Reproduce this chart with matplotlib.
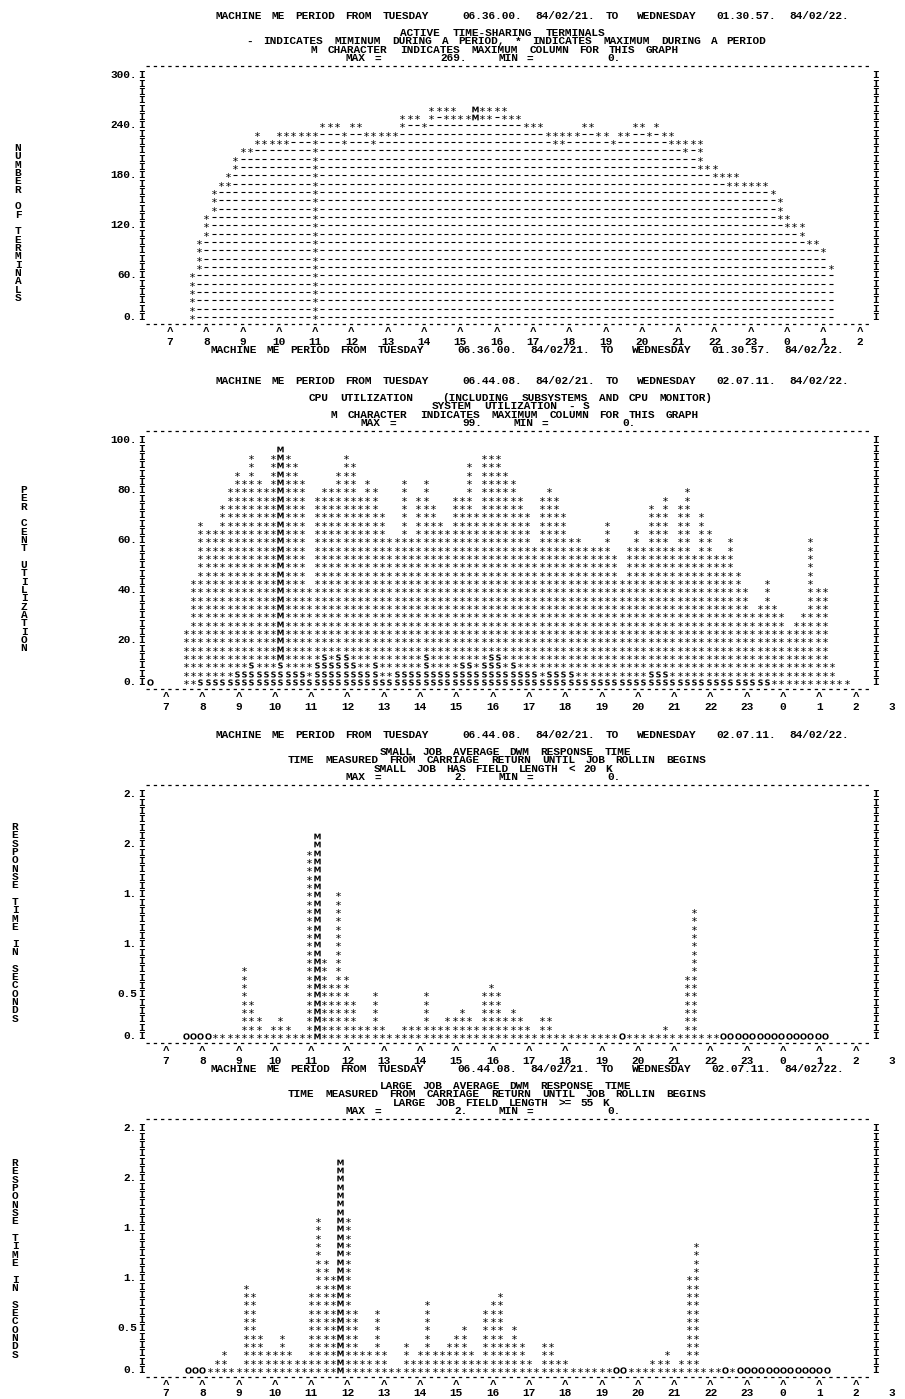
import re
import matplotlib
matplotlib.use('Agg')
import matplotlib.pyplot as plt

nan = float('nan')

# ---------------- data ----------------
hours = list(range(7, 28))                      # 7 .. 3 next morning
hour_names = [str(h % 24) for h in hours]

hdr_terminals = ("MACHINE ME PERIOD FROM TUESDAY    06.36.00. 84/02/21. TO  "
                 "WEDNESDAY  01.30.57. 84/02/22.")
hdr_other = ("MACHINE ME PERIOD FROM TUESDAY    06.44.08. 84/02/21. TO  "
             "WEDNESDAY  02.07.11. 84/02/22.")

# active time-sharing terminals, one column per 12 minutes (max / min of period)
term_t0 = 7.6
term_max = [52, 93, 124, 155, 166, 176, 197, 207, 207, 228,
            217, 217, 228, 228, 228, 228, 228, 228, 238, 238,
            238, 228, 238, 238, 228, 228, 228, 228, 228, 248,
            248, 248, 238, 259, 259, 259, 259, 248, 248, 262,
            259, 259, 259, 259, 248, 248, 238, 238, 238, 228,
            228, 228, 228, 228, 238, 238, 228, 228, 217, 228,
            228, 238, 238, 228, 238, 228, 228, 217, 217, 217,
            217, 186, 186, 176, 176, 176, 166, 166, 166, 166,
            155, 145, 124, 114, 114, 93, 93, 83, 62]
term_min = [0, 62, 103, 134, 166, 166, 186, 207, 207, 217,
            217, 217, 217, 217, 228, 228, 228, 0, 238, 238,
            238, 217, 238, 238, 228, 217, 228, 228, 228, 238,
            248, 248, 238, 248, 259, 248, 248, 248, 248, 248,
            248, 248, 259, 248, 248, 248, 238, 238, 238, 228,
            217, 217, 228, 228, 238, 238, 228, 228, 217, 228,
            228, 238, 238, 228, 238, 228, 217, 217, 207, 217,
            186, 186, 176, 176, 166, 166, 166, 166, 166, 166,
            155, 124, 114, 114, 103, 93, 93, 83, 62]
term_ticks = ['300.', '240.', '180.', '120.', '60.', '0.']

# cpu utilization in per cent (total, system part)
cpu_t0 = 6.55
cpu_total = [0, nan, nan, nan, nan,
             21, 41, 66, 62, 62, 72, 79, 86, 83, 93,
             83, 79, 93, 97, 93, 90, 83, 38, 76, 79,
             79, 86, 93, 90, 76, 83, 79, 69, 59, 59,
             83, 59, 76, 83, 72, 66, 62, 76, 76, 90,
             69, 93, 93, 93, 86, 83, 76, 69, 55, 76,
             79, 76, 69, 59, 59, 55, 55, 55, 66, 52,
             41, 55, 62, 55, 72, 69, 76, 55, 72, 79,
             52, 69, 62, 52, 52, 59, 45, 38, 28, 31,
             41, 31, 28, 21, 24, 28, 59, 38, 38, 7,
             1, 1]
cpu_system = [nan, nan, nan, nan, nan,
              0, 0, 1, 1, 1, 1, 1, 3, 3, 7,
              3, 3, 3, 7, 3, 3, 3, 1, 7, 10,
              7, 10, 10, 7, 3, 3, 7, 1, 1, 3,
              3, 3, 3, 10, 3, 3, 3, 3, 7, 7,
              3, 7, 10, 10, 3, 7, 3, 3, 3, 1,
              3, 3, 3, 3, 1, 1, 1, 1, 1, 1,
              1, 1, 1, 1, 3, 3, 3, 1, 1, 1,
              1, 1, 1, 1, 1, 1, 1, 1, 1, 1,
              1, 0, 0, 0, 0, 0, 0, 0, 0, 0,
              0, 0]
cpu_ticks = ['100.', '80.', '60.', '40.', '20.', '0.']

# small / large job average DWM response time in seconds (0 printed as O)
small_t0 = 7.55
small_resp = [0.0, 0.0, 0.0, 0.0, 0.02, 0.02, 0.02, 0.02,
              0.69, 0.34, 0.17, 0.02, 0.09, 0.17, 0.09, 0.02, 0.02, 1.90,
              2.07, 0.78, 0.52, 1.47, 0.60, 0.34, 0.09, 0.09, 0.43, 0.09,
              0.02, 0.02, 0.09, 0.09, 0.09, 0.43, 0.09, 0.09, 0.17, 0.17,
              0.26, 0.17, 0.09, 0.43, 0.52, 0.43, 0.17, 0.26, 0.17, 0.09,
              0.02, 0.17, 0.17,
              0.02, 0.02, 0.02, 0.02, 0.02, 0.02, 0.02, 0.02, 0.02, 0.0,
              0.02, 0.02, 0.02, 0.02, 0.02, 0.09, 0.02, 0.02, 0.60, 1.29,
              0.02, 0.02, 0.02,
              0.0, 0.0, 0.0, 0.0, 0.0, 0.0, 0.0, 0.0, 0.0, 0.0, 0.0, 0.0,
              0.0, 0.0, 0.0]
large_t0 = 7.6
large_resp = [0.0, 0.0, 0.0,
              0.02, 0.09, 0.17, 0.02, 0.02, 0.86, 0.78, 0.34, 0.17, 0.17,
              0.34, 0.17, 0.09, 0.09, 0.78, 1.55, 1.12, 0.95, 2.16, 1.55,
              0.60, 0.17, 0.17, 0.60, 0.17, 0.02, 0.02, 0.26, 0.09, 0.17,
              0.69, 0.17, 0.17, 0.26, 0.34, 0.43, 0.17, 0.09, 0.60, 0.69,
              0.78, 0.26, 0.43, 0.26, 0.09, 0.02, 0.26, 0.26, 0.09, 0.09,
              0.02, 0.02, 0.02, 0.02, 0.02, 0.02, 0.0, 0.0,
              0.02, 0.02, 0.02, 0.09, 0.09, 0.17, 0.02, 0.09, 0.95, 1.29,
              0.02, 0.02, 0.02, 0.0, 0.02,
              0.0, 0.0, 0.0, 0.0, 0.0, 0.0, 0.0, 0.0, 0.0, 0.0, 0.0, 0.0, 0.0]
resp_ticks = ['2.', '2.', '1.', '1.', '0.5', '0.']

# ---------------- layout ----------------
W, H = 905, 1399
FONT = 'Liberation Mono'
FS = 8.0
CH = 7.26                # px per printer column
PITCH = 8.33             # px per printer line
HOUR = 36.3              # px per hour (5 columns of 12 minutes)
COL = 0.2                # hours per column
X0, X1 = 141, 876        # frame "I" columns
LABEL_ROWS = [29, 23, 17, 11, 5, 0]

plt.rcParams['lines.scale_dashes'] = False
fig = plt.figure(figsize=(W / 100, H / 100), dpi=100)
fig.patch.set_facecolor('white')
TK = dict(va='center', family=FONT, weight='bold', fontsize=FS, color='black')


def ftext(x, y, s, ha='left'):
    # printer line: every word sits on its own character columns
    if ha == 'center':
        x = x - len(s) * CH / 2
    for m in re.finditer(r'\S+', s):
        w = m.group()
        cx = x + (m.start() + len(w) / 2) * CH
        fig.text(cx / W, 1 - y / H, w, ha='center', **TK)


def vlabel(x, y, s):
    for i, ch in enumerate(s):
        if ch != ' ':
            fig.text(x / W, 1 - (y + i * PITCH) / H, ch, ha='center', **TK)


def panel(row0, tick7, step, ticks, last_caret, last_label, lab_off=25):
    bot = row0 + PITCH
    top = row0 - 30 * PITCH
    ax = fig.add_axes([X0 / W, 1 - bot / H, (X1 - X0) / W, (bot - top) / H])
    ax.set_xlim(7 - (tick7 - X0) / HOUR, 7 + (X1 - tick7) / HOUR)
    ax.set_ylim(-step, 30 * step)
    ax.axis('off')
    tr = ax.get_yaxis_transform()
    fx = lambda px: (px - X0) / (X1 - X0)
    for r in range(30):
        ax.text(fx(141.5), r * step, 'I', ha='center', transform=tr, clip_on=False, **TK)
        ax.text(fx(875.5), r * step, 'I', ha='center', transform=tr, clip_on=False, **TK)
    for r, lab in zip(LABEL_ROWS, ticks):
        ax.text(fx(137), r * step, lab, ha='right', transform=tr, clip_on=False, **TK)
    for yy in (30.1 * step, -0.85 * step):
        ax.plot([fx(146), fx(872)], [yy, yy], transform=tr, color='black',
                lw=0.9, ls=(0, (2.4, 2.83)), clip_on=False)
    for h, name in zip(hours, hour_names):
        if h <= last_caret:
            ax.text(h, -15 / PITCH * step, '^', ha='center', clip_on=False, **TK)
        if h <= last_label:
            ax.text(h, -lab_off / PITCH * step, name, ha='center', clip_on=False, **TK)
    return ax


STYLE = {'*': dict(marker=r'$*$', s=13, linewidths=0),
         '-': dict(marker='_', s=9, linewidths=0.8),
         'M': dict(marker=r'$\mathbf{M}$', s=21, linewidths=0),
         'S': dict(marker=r'$\mathbf{S}$', s=19, linewidths=0),
         'O': dict(marker=r'$\mathbf{O}$', s=21, linewidths=0)}


def draw(ax, pts):
    for ch, xy in pts.items():
        if xy:
            xs, ys = zip(*xy)
            ax.scatter(xs, ys, c='black', **STYLE[ch])


def resp_panel(ax, t0, vals, step):
    pts = {'*': [], 'M': [], 'O': []}
    kmax = max(range(len(vals)), key=lambda i: vals[i])
    for k, v in enumerate(vals):
        t = t0 + COL * k
        if v == 0:
            pts['O'].append((t, 0))
            continue
        ch = 'M' if k == kmax else '*'
        for r in range(int(round(v / step)) + 1):
            pts[ch].append((t, r * step))
    draw(ax, pts)


# ---------- panel 1 : terminals ----------
row0 = 317
y29 = row0 - 29 * PITCH
ftext(213, y29 - 59, hdr_terminals)
ftext(503, y29 - 42, "ACTIVE TIME-SHARING TERMINALS", ha='center')
ftext(507, y29 - 34, "- INDICATES MIMINUM DURING A PERIOD, * INDICATES "
      "MAXIMUM DURING A PERIOD", ha='center')
ftext(495, y29 - 25, "M CHARACTER INDICATES MAXIMUM COLUMN FOR THIS GRAPH",
      ha='center')
ftext(345, y29 - 17, "MAX =        269.    MIN =          0.")
vlabel(18, 148, "NUMBER OF TERMINALS")
step1 = 300 / 29
ax1 = panel(row0, 170, step1, term_ticks, 26, 26)
ftext(208, row0 + 33, hdr_terminals)
pts = {'*': [], '-': [], 'M': []}
kmax = max(range(len(term_max)), key=lambda i: term_max[i])
for k, (hi, lo) in enumerate(zip(term_max, term_min)):
    t = term_t0 + COL * k
    rhi, rlo = int(round(hi / step1)), int(round(lo / step1))
    for r in range(rhi + 1):
        ch = '-' if r < rlo else ('M' if k == kmax else '*')
        pts[ch].append((t, r * step1))
draw(ax1, pts)

# ---------- panel 2 : cpu ----------
row0 = 682
y29 = row0 - 29 * PITCH
ftext(213, y29 - 59, hdr_other)
ftext(308, y29 - 42, "CPU UTILIZATION   (INCLUDING SUBSYSTEMS AND CPU MONITOR)")
ftext(430, y29 - 34, "SYSTEM UTILIZATION - S")
ftext(330, y29 - 25, "M CHARACTER INDICATES MAXIMUM COLUMN FOR THIS GRAPH")
ftext(360, y29 - 17, "MAX =         99.    MIN =          0.")
vlabel(24, 490, "PER CENT UTILIZATION")
step2 = 100 / 29
ax2 = panel(row0, 166, step2, cpu_ticks, 26, 27)
pts = {'*': [], 'M': [], 'S': [], 'O': []}
valid = [i for i, v in enumerate(cpu_total) if v == v]
kmax = max(valid, key=lambda i: cpu_total[i])
for k, (c, s) in enumerate(zip(cpu_total, cpu_system)):
    if c != c:
        continue
    t = cpu_t0 + COL * k
    if c == 0:
        pts['O'].append((t, 0))
        continue
    rs = int(round(s / step2)) if s > 0 else -1
    for r in range(int(round(c / step2)) + 1):
        ch = 'S' if r <= rs else ('M' if k == kmax else '*')
        pts[ch].append((t, r * step2))
draw(ax2, pts)

# ---------- panel 3 : small jobs ----------
row0 = 1036
y29 = row0 - 29 * PITCH
step3 = 2.5 / 29
ftext(213, y29 - 59, hdr_other)
ftext(505, y29 - 42, "SMALL JOB AVERAGE DWM RESPONSE TIME", ha='center')
ftext(497, y29 - 34, "TIME MEASURED FROM CARRIAGE RETURN UNTIL JOB ROLLIN BEGINS",
      ha='center')
ftext(492, y29 - 25, "SMALL JOB HAS FIELD LENGTH < 20 K", ha='center')
ftext(345, y29 - 17, "MAX =          2.    MIN =          0.")
vlabel(15, 827, "RESPONSE TIME IN SECONDS")
ax3 = panel(row0, 166, step3, resp_ticks, 26, 27)
ftext(208, row0 + 33, hdr_other)
resp_panel(ax3, small_t0, small_resp, step3)

# ---------- panel 4 : large jobs ----------
row0 = 1370
y29 = row0 - 29 * PITCH
ftext(505, y29 - 42, "LARGE JOB AVERAGE DWM RESPONSE TIME", ha='center')
ftext(497, y29 - 34, "TIME MEASURED FROM CARRIAGE RETURN UNTIL JOB ROLLIN BEGINS",
      ha='center')
ftext(500, y29 - 25, "LARGE JOB FIELD LENGTH >= 55 K", ha='center')
ftext(345, y29 - 17, "MAX =          2.    MIN =          0.")
vlabel(15, 1163, "RESPONSE TIME IN SECONDS")
ax4 = panel(row0, 166, step3, resp_ticks, 26, 27, lab_off=23)
resp_panel(ax4, large_t0, large_resp, step3)

fig.savefig('out.png', dpi=100, facecolor='white')
